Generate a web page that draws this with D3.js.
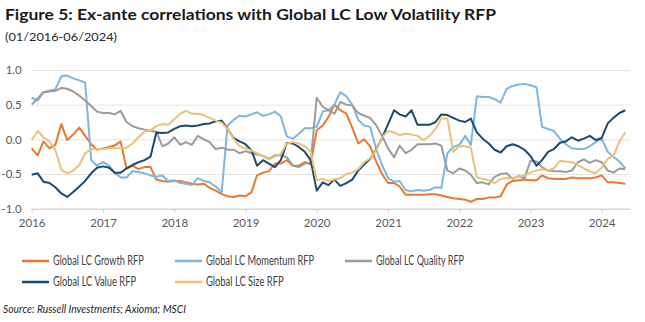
<!DOCTYPE html>
<html>
<head>
<meta charset="utf-8">
<script src="https://cdn.jsdelivr.net/npm/d3@7"></script>
<style>
  html, body { margin: 0; padding: 0; background: #fff; }
  svg { display: block; font-family: Lato, "Open Sans", sans-serif; }
</style>
</head>
<body>
<div id="chart"></div>
<script>
// monthly ex-ante correlations, 01/2016 .. 05/2024
var growth = [-0.13,-0.23,-0.03,-0.13,-0.08,0.22,-0.01,0.07,0.17,0.05,-0.07,-0.15,-0.13,-0.11,-0.09,-0.03,-0.42,-0.38,-0.43,-0.40,-0.40,-0.58,-0.60,-0.61,-0.60,-0.60,-0.62,-0.64,-0.65,-0.64,-0.70,-0.74,
	-0.79,-0.82,-0.83,-0.81,-0.82,-0.76,-0.52,-0.48,-0.46,-0.35,-0.35,-0.30,-0.38,-0.38,-0.33,-0.36,0.13,0.20,0.32,0.50,0.42,0.37,0.17,-0.06,0.00,-0.10,-0.32,-0.50,-0.63,-0.63,-0.68,-0.80,-0.80,-0.80,
	-0.80,-0.79,-0.79,-0.81,-0.83,-0.85,-0.86,-0.87,-0.90,-0.86,-0.86,-0.84,-0.84,-0.82,-0.65,-0.60,-0.59,-0.58,-0.59,-0.59,-0.52,-0.56,-0.57,-0.57,-0.57,-0.55,-0.56,-0.56,-0.56,-0.55,-0.52,-0.62,-0.62,-0.63,-0.64];
var momentum = [0.60,0.56,0.68,0.70,0.72,0.91,0.92,0.88,0.85,0.82,-0.30,-0.38,-0.33,-0.38,-0.48,-0.55,-0.55,-0.46,-0.47,-0.49,-0.52,-0.54,-0.52,-0.60,-0.59,-0.63,-0.64,-0.66,-0.56,-0.60,-0.62,-0.68,
	-0.76,0.20,0.28,0.34,0.33,0.36,0.39,0.34,0.36,0.40,0.33,0.04,0.01,0.08,0.16,0.16,0.18,0.40,0.42,0.50,0.68,0.62,0.50,0.28,0.20,0.18,-0.14,-0.37,-0.56,-0.61,-0.60,-0.73,-0.75,-0.73,
	-0.74,-0.73,-0.69,-0.70,-0.20,-0.11,-0.08,0.05,-0.08,0.62,0.61,0.61,0.58,0.53,0.73,0.77,0.79,0.80,0.78,0.75,0.18,0.15,0.12,0.01,-0.07,-0.13,-0.14,-0.14,-0.10,-0.04,0.01,-0.18,-0.25,-0.32,-0.42];
var quality = [0.50,0.59,0.68,0.69,0.70,0.74,0.73,0.69,0.63,0.56,0.48,0.40,0.38,0.38,0.36,0.41,0.25,0.19,0.16,0.14,0.12,0.11,-0.10,-0.06,0.03,-0.08,-0.04,-0.08,0.05,0.00,-0.04,-0.14,
	-0.12,-0.15,-0.15,-0.20,-0.17,-0.20,-0.22,-0.24,-0.28,-0.23,-0.23,-0.26,-0.38,-0.40,-0.35,-0.33,0.60,0.47,0.42,0.37,0.54,0.50,0.49,0.38,0.34,0.31,0.20,0.05,-0.13,-0.26,-0.09,-0.20,-0.15,-0.07,
	-0.07,-0.07,-0.06,-0.09,-0.45,-0.49,-0.42,-0.45,-0.51,-0.63,-0.62,-0.65,-0.54,-0.50,-0.49,-0.57,-0.53,-0.56,-0.31,-0.32,-0.40,-0.45,-0.46,-0.46,-0.47,-0.45,-0.33,-0.29,-0.34,-0.30,-0.33,-0.45,-0.48,-0.42,-0.43];
var value = [-0.51,-0.49,-0.61,-0.63,-0.69,-0.78,-0.83,-0.76,-0.68,-0.60,-0.49,-0.41,-0.39,-0.41,-0.48,-0.48,-0.42,-0.37,-0.33,-0.30,-0.25,0.10,0.09,0.10,0.15,0.19,0.20,0.19,0.20,0.22,0.23,0.26,
	0.27,0.15,0.02,-0.03,-0.07,-0.16,-0.38,-0.30,-0.35,-0.40,-0.30,-0.05,-0.06,-0.11,-0.18,-0.30,-0.74,-0.62,-0.66,-0.58,-0.67,-0.63,-0.58,-0.45,-0.36,-0.28,-0.14,0.02,0.22,0.42,0.36,0.33,0.42,0.21,
	0.21,0.21,0.25,0.36,0.35,0.31,0.27,0.25,0.30,0.10,0.01,-0.06,-0.15,-0.19,-0.10,-0.07,-0.10,-0.15,-0.24,-0.38,-0.30,-0.18,-0.14,-0.05,-0.03,0.03,-0.02,0.01,0.05,-0.01,0.02,0.23,0.31,0.38,0.42];
var size = [-0.01,0.12,0.03,-0.03,-0.15,-0.44,-0.49,-0.45,-0.37,-0.20,-0.14,-0.14,-0.14,-0.13,-0.13,-0.13,-0.12,-0.06,0.03,0.11,0.13,0.19,0.22,0.21,0.29,0.37,0.41,0.37,0.37,0.35,0.31,0.27,
	0.24,0.15,0.01,-0.10,-0.13,-0.16,-0.20,-0.24,-0.29,-0.25,-0.21,-0.06,-0.04,-0.06,-0.10,-0.18,-0.59,-0.57,-0.60,-0.58,-0.56,-0.50,-0.48,-0.43,-0.33,-0.27,-0.15,0.03,0.12,0.10,0.06,0.08,0.07,0.05,
	-0.01,0.05,0.15,0.30,0.30,-0.18,-0.10,-0.10,-0.12,-0.55,-0.57,-0.59,-0.63,-0.57,-0.56,-0.56,-0.54,-0.52,-0.48,-0.45,-0.43,-0.45,-0.42,-0.31,-0.32,-0.33,-0.37,-0.42,-0.46,-0.49,-0.41,-0.28,-0.24,-0.03,0.10];

var seriesNames = ["Global LC Growth RFP", "Global LC Momentum RFP", "Global LC Quality RFP", "Global LC Value RFP", "Global LC Size RFP"];
var seriesColors = ["#e8792f", "#7db6e0", "#9b9b9b", "#1a4a72", "#e9c27a"];
var yTicks = [-1.0, -0.5, 0.0, 0.5, 1.0];
var yearTicks = [2016, 2017, 2018, 2019, 2020, 2021, 2022, 2023, 2024];

var months = d3.timeMonth.range(new Date(2016, 0, 1), new Date(2024, 5, 1));
var allSeries = [growth, momentum, quality, value, size];

var W = 645, H = 322;
var plotLeft = 31.7, plotRight = 630;

var svg = d3.select("#chart").append("svg")
	.attr("width", W)
	.attr("height", H);

svg.append("rect").attr("width", W).attr("height", H).attr("fill", "#fff");

var x = d3.scaleTime()
	.domain([new Date(2016, 0, 1), new Date(2024, 0, 1)])
	.range([plotLeft, 601.7]);
var y = d3.scaleLinear()
	.domain([-1, 1])
	.range([208.7, 70]);

// title
svg.append("text")
	.attr("x", 5).attr("y", 20)
	.attr("font-size", 14.5).attr("font-weight", "bold").attr("fill", "#1a1a1a")
	.attr("textLength", 491).attr("lengthAdjust", "spacingAndGlyphs")
	.text("Figure 5: Ex-ante correlations with Global LC Low Volatility RFP");
svg.append("text")
	.attr("x", 5).attr("y", 41)
	.attr("font-size", 12).attr("fill", "#262626")
	.attr("textLength", 112).attr("lengthAdjust", "spacingAndGlyphs")
	.text("(01/2016-06/2024)");

// gridlines + y labels
var yAxis = d3.axisLeft(y)
	.tickValues(yTicks)
	.tickSize(-(plotRight - plotLeft))
	.tickPadding(10)
	.tickFormat(function(d) { return d.toFixed(1); });
var gy = svg.append("g")
	.attr("transform", "translate(" + plotLeft + ",0)")
	.call(yAxis);
gy.select(".domain").remove();
gy.selectAll(".tick line").attr("stroke", "#e3e3e3");
gy.selectAll(".tick text")
	.attr("font-family", "Lato, sans-serif")
	.attr("font-size", 11.5).attr("fill", "#595959");

// x axis
var xAxis = d3.axisBottom(x)
	.tickValues(yearTicks.map(function(yr) { return new Date(yr, 0, 1); }))
	.tickSize(4)
	.tickPadding(6)
	.tickFormat(d3.timeFormat("%Y"));
var gx = svg.append("g")
	.attr("transform", "translate(0," + y(-1) + ")")
	.call(xAxis);
gx.select(".domain").attr("d", "M" + plotLeft + ",0.5H" + plotRight).attr("stroke", "#cfcfcf");
gx.selectAll(".tick line").attr("stroke", "#cfcfcf");
gx.selectAll(".tick text")
	.attr("font-family", "Lato, sans-serif")
	.attr("font-size", 11.5).attr("fill", "#595959");

// series
var line = d3.line()
	.x(function(d, i) { return x(months[i]); })
	.y(function(d) { return y(d); });

svg.append("g").selectAll("path")
	.data(allSeries)
	.enter()
	.append("path")
	.attr("d", line)
	.attr("fill", "none")
	.attr("stroke", function(d, i) { return seriesColors[i]; })
	.attr("stroke-width", 2)
	.attr("stroke-linejoin", "round");

// legend
var legendPos = [[22, 261], [175, 261], [345, 261], [22, 282], [175, 282]];
var legendWidths = [90.7, 108, 88, 83, 77.7];
var legend = svg.append("g").selectAll("g")
	.data(seriesNames)
	.enter()
	.append("g")
	.attr("transform", function(d, i) { return "translate(" + legendPos[i][0] + "," + legendPos[i][1] + ")"; });
legend.append("line")
	.attr("x1", 0).attr("x2", 27)
	.attr("stroke", function(d, i) { return seriesColors[i]; })
	.attr("stroke-width", 2.5);
legend.append("text")
	.attr("x", 31).attr("y", 4)
	.attr("font-size", 12.5).attr("fill", "#404040")
	.attr("textLength", function(d, i) { return legendWidths[i]; })
	.attr("lengthAdjust", "spacingAndGlyphs")
	.text(function(d) { return d; });

// source
svg.append("text")
	.attr("x", 3).attr("y", 313)
	.attr("font-size", 12).attr("font-style", "italic").attr("fill", "#262626")
	.attr("textLength", 183).attr("lengthAdjust", "spacingAndGlyphs")
	.text("Source: Russell Investments; Axioma; MSCI");
</script>
</body>
</html>
